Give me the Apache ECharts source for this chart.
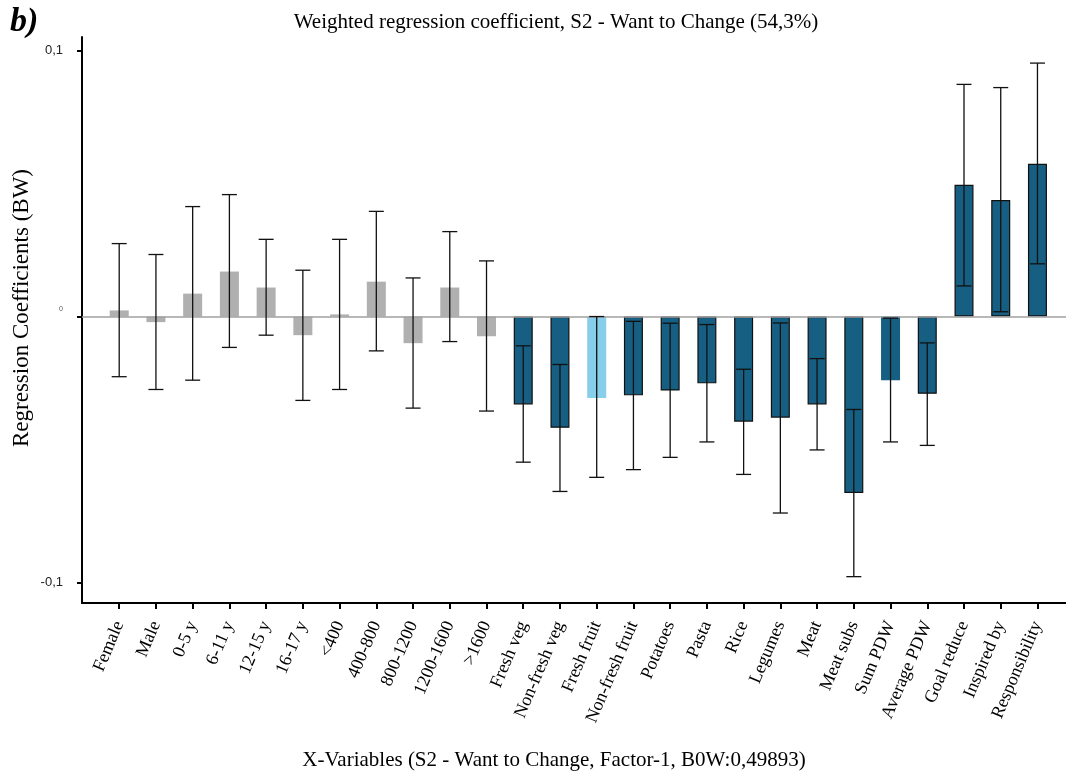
<!DOCTYPE html>
<html>
<head>
<meta charset="utf-8">
<script src="https://cdn.jsdelivr.net/npm/echarts@6/dist/echarts.min.js"></script>
<style>html,body{margin:0;padding:0;background:#fff;overflow:hidden}#c{width:1066px;height:772px}</style>
</head>
<body>
<div id="c"></div>
<script>
const categories = ['Female','Male','0-5 y','6-11 y','12-15 y','16-17 y','<400','400-800','800-1200','1200-1600','>1600',
  'Fresh veg','Non-fresh veg','Fresh fruit','Non-fresh fruit','Potatoes','Pasta','Rice','Legumes','Meat','Meat subs',
  'Sum PDW','Average PDW','Goal reduce','Inspired by','Responsibility'];
const coefficients = [0.0023,-0.0021,0.0086,0.0169,0.0109,-0.0070,0.0008,0.0131,-0.0100,0.0109,-0.0074,
  -0.0330,-0.0418,-0.0306,-0.0296,-0.0278,-0.0251,-0.0395,-0.0380,-0.0330,-0.0663,
  -0.0239,-0.0290,0.0495,0.0438,0.0574];
const errorLow = [-0.0226,-0.0274,-0.0239,-0.0116,-0.0070,-0.0315,-0.0274,-0.0129,-0.0344,-0.0094,-0.0355,
  -0.0547,-0.0657,-0.0604,-0.0575,-0.0529,-0.0471,-0.0593,-0.0738,-0.0501,-0.0977,
  -0.0471,-0.0484,0.0115,0.0018,0.0198];
const errorHigh = [0.0274,0.0233,0.0413,0.0458,0.0290,0.0174,0.0290,0.0395,0.0145,0.0319,0.0209,
  -0.0110,-0.0180,0.0000,-0.0018,-0.0025,-0.0030,-0.0198,-0.0024,-0.0158,-0.0349,
  -0.0006,-0.0099,0.0872,0.0860,0.0952];
const groups = ['demo','demo','demo','demo','demo','demo','demo','demo','demo','demo','demo',
  'diet','diet','fruit','diet','diet','diet','diet','diet','diet','diet',
  'sum','diet','diet','diet','diet'];
const yTicks = [-0.1, 0, 0.1];

const styleByGroup = {
  demo: {color:'#b0b0b0', borderWidth:0},
  diet: {color:'#175f82', borderColor:'#111', borderWidth:1.2},
  fruit: {color:'#87ceeb', borderWidth:0},
  sum: {color:'#175f82', borderWidth:0}
};

const el = document.getElementById('c');
const chart = echarts.init(el, null, {renderer:'canvas'});
const H = chart.getHeight();
const idx = categories.map((_, i) => i);
const serif = 'Liberation Serif';
const axisY = 603; // bottom axis position in page pixels

chart.setOption({
  animation: false,
  title: {
    text: 'Weighted regression coefficient, S2 - Want to Change (54,3%)',
    left: 551, top: 7, textAlign: 'center',
    textStyle: {fontFamily: serif, fontSize: 21, fontWeight: 'normal', color: '#000'}
  },
  graphic: [{
    type: 'text', left: 10, top: 5,
    style: {text: 'b)', font: 'italic bold 34px "Liberation Serif"', fill: '#000'}
  }, {
    type: 'text', x: 22, y: 308, rotation: Math.PI / 2,
    style: {text: 'Regression Coefficients (BW)', font: '23px "Liberation Serif"', fill: '#000',
      align: 'center', verticalAlign: 'middle'}
  }, {
    type: 'text', x: 554, y: Math.min(760, H - 10),
    style: {text: 'X-Variables (S2 - Want to Change, Factor-1, B0W:0,49893)', font: '21px "Liberation Serif"', fill: '#000',
      align: 'center', verticalAlign: 'middle'}
  }],
  grid: {left: 82, right: 0, top: 37, bottom: H - axisY, containLabel: false},
  xAxis: {
    type: 'value', min: -1.013, max: 25.777,
    splitLine: {show: false},
    axisLine: {show: true, onZero: false, lineStyle: {color: '#000', width: 2}},
    axisTick: {show: true, length: 6, lineStyle: {color: '#000', width: 2}, customValues: idx},
    axisLabel: {
      customValues: idx, rotate: 67, margin: 19,
      fontFamily: serif, fontSize: 18, color: '#000',
      formatter: v => categories[Math.round(v)] || ''
    }
  },
  yAxis: {
    type: 'value', min: -0.1076, max: 0.105,
    splitLine: {show: false},
    axisLine: {show: true, onZero: false, lineStyle: {color: '#000', width: 2}},
    axisTick: {show: true, length: 5, lineStyle: {color: '#000', width: 2}, customValues: yTicks},
    axisLabel: {
      customValues: yTicks, margin: 19,
      fontFamily: 'Liberation Sans', fontSize: 13, color: '#222',
      formatter: v => Math.abs(v) < 1e-9 ? '{z|0}' : String(v).replace('.', ','),
      rich: {z: {fontSize: 7, color: '#555', padding: [0, 0, 14, 0]}}
    }
  },
  series: [{
    type: 'bar',
    barWidth: 19,
    data: coefficients.map((v, i) => ({value: [i, v], itemStyle: styleByGroup[groups[i]]})),
    markLine: {
      silent: true, symbol: ['none', 'none'], label: {show: false},
      lineStyle: {color: '#a0a0a0', width: 1.5, type: 'solid'},
      data: [{yAxis: 0}]
    },
    z: 2
  }, {
    type: 'custom',
    data: categories.map((_, i) => [i, errorLow[i], errorHigh[i]]),
    renderItem: function (params, api) {
      const x = api.value(0);
      const lo = api.coord([x, api.value(1)]);
      const hi = api.coord([x, api.value(2)]);
      const hw = 7.5;
      const st = {stroke: '#111', lineWidth: 1.3};
      return {
        type: 'group',
        children: [
          {type: 'line', shape: {x1: lo[0], y1: lo[1], x2: hi[0], y2: hi[1]}, style: st},
          {type: 'line', shape: {x1: lo[0] - hw, y1: lo[1], x2: lo[0] + hw, y2: lo[1]}, style: st},
          {type: 'line', shape: {x1: hi[0] - hw, y1: hi[1], x2: hi[0] + hw, y2: hi[1]}, style: st}
        ]
      };
    },
    z: 5
  }]
});
</script>
</body>
</html>
